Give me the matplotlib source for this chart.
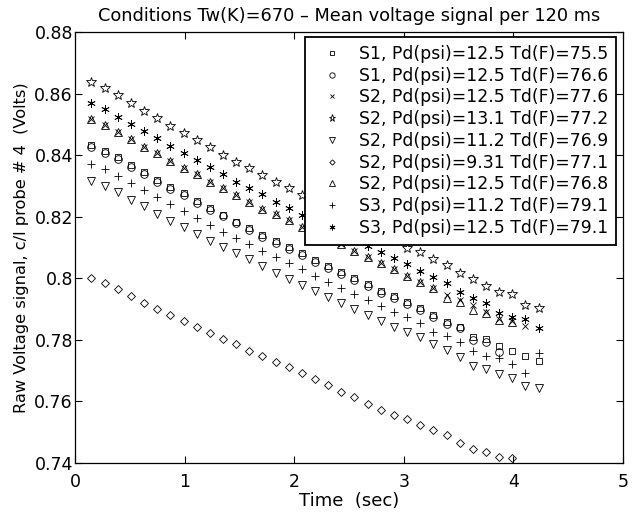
import matplotlib
matplotlib.use("Agg")
import matplotlib.pyplot as plt

plt.rcParams['font.family'] = ['DejaVu Sans']

time_s = [0.15, 0.27, 0.39, 0.51, 0.63, 0.75, 0.87, 0.99, 1.11, 1.23, 1.35, 1.47,
          1.59, 1.71, 1.83, 1.95, 2.07, 2.19, 2.31, 2.43, 2.55, 2.67, 2.79, 2.91,
          3.03, 3.15, 3.27, 3.39, 3.51, 3.63, 3.75, 3.87, 3.99, 4.11, 4.23]

s1_755 = [.8433, .8414, .8393, .8368, .8344, .8319, .8295, .8276, .8250, .8227, .8207, .8184,
          .8162, .8141, .8122, .8100, .8082, .8059, .8040, .8019, .8000, .7981, .7959, .7941,
          .7922, .7902, .7881, .7859, .7843, .7810, .7802, .7781, .7764, .7747, .7731]
s1_766 = [.8427, .8408, .8387, .8362, .8338, .8313, .8289, .8270, .8244, .8221, .8201, .8178,
          .8156, .8135, .8116, .8094, .8076, .8053, .8034, .8013, .7994, .7975, .7953, .7935,
          .7916, .7896, .7875, .7853, .7837, .7801, .7793, .7760]
s2_776 = [.8517, .8499, .8474, .8452, .8427, .8406, .8382, .8359, .8338, .8314, .8292, .8271,
          .8249, .8225, .8208, .8189, .8168, .8148, .8128, .8110, .8090, .8070, .8049, .8030,
          .8008, .7989, .7967, .7946, .7928, .7913, .7890, .7867, .7860, .7845]
s2_772 = [.8639, .8617, .8594, .8568, .8544, .8520, .8496, .8473, .8449, .8426, .8401, .8379,
          .8357, .8335, .8312, .8292, .8270, .8250, .8228, .8207, .8186, .8162, .8141, .8120,
          .8099, .8086, .8063, .8043, .8018, .7999, .7976, .7954, .7948, .7913, .7902]
s2_769 = [.8316, .8301, .8279, .8254, .8234, .8210, .8187, .8166, .8144, .8122, .8101, .8081,
          .8062, .8040, .8018, .7997, .7978, .7960, .7939, .7919, .7900, .7881, .7861, .7843,
          .7826, .7808, .7786, .7767, .7745, .7716, .7704, .7689, .7677, .7651, .7645]
s2_771 = [.8000, .7984, .7964, .7942, .7921, .7899, .7881, .7862, .7841, .7821, .7803, .7786,
          .7765, .7748, .7729, .7711, .7692, .7672, .7652, .7630, .7613, .7592, .7572, .7556,
          .7542, .7523, .7507, .7491, .7466, .7445, .7437, .7420, .7417]
s2_768 = [.8517, .8499, .8474, .8452, .8427, .8406, .8382, .8359, .8338, .8314, .8292, .8271,
          .8249, .8225, .8208, .8189, .8168, .8148, .8128, .8110, .8090, .8070, .8049, .8030,
          .8008, .7989, .7967, .7937, .7924, .7897, .7888, .7865, .7859]
s3_791a = [.8370, .8354, .8333, .8310, .8287, .8263, .8242, .8217, .8195, .8173, .8151, .8130,
           .8111, .8090, .8068, .8049, .8029, .8007, .7987, .7967, .7948, .7929, .7910, .7891,
           .7873, .7854, .7826, .7813, .7794, .7764, .7748, .7741, .7722, .7691, .7758]
s3_791b = [.8568, .8550, .8525, .8501, .8478, .8455, .8431, .8408, .8384, .8361, .8338, .8314,
           .8292, .8273, .8249, .8227, .8206, .8186, .8166, .8146, .8126, .8106, .8086, .8065,
           .8045, .8024, .8003, .7986, .7954, .7937, .7921, .7888, .7875, .7867, .7840]

labels = ["S1, Pd(psi)=12.5 Td(F)=75.5",
          "S1, Pd(psi)=12.5 Td(F)=76.6",
          "S2, Pd(psi)=12.5 Td(F)=77.6",
          "S2, Pd(psi)=13.1 Td(F)=77.2",
          "S2, Pd(psi)=11.2 Td(F)=76.9",
          "S2, Pd(psi)=9.31 Td(F)=77.1",
          "S2, Pd(psi)=12.5 Td(F)=76.8",
          "S3, Pd(psi)=11.2 Td(F)=79.1",
          "S3, Pd(psi)=12.5 Td(F)=79.1"]
series = [s1_755, s1_766, s2_776, s2_772, s2_769, s2_771, s2_768, s3_791a, s3_791b]
markers = ['s', 'o', 'x', '*', 'v', 'D', '^', '+', (6, 2, 0)]
msizes = [5, 5.5, 4, 7.5, 6, 3.8, 6, 6, 6]

fig = plt.figure(figsize=(6.42, 5.14), dpi=100)
ax = fig.add_axes([75/642, 1 - 463/514, (623-75)/642, (463-32)/514])

for y, m, ms, lab in zip(series, markers, msizes, labels):
    ax.plot(time_s[:len(y)], y, linestyle='none', marker=m, markersize=ms,
            markerfacecolor='none', markeredgecolor='black', markeredgewidth=0.6,
            color='black', label=lab)

ax.set_xlim(0, 5)
ax.set_ylim(0.74, 0.88)
ax.set_xticks([0, 1, 2, 3, 4, 5])
ax.set_yticks([0.74, 0.76, 0.78, 0.8, 0.82, 0.84, 0.86, 0.88])
ax.set_yticklabels(['0.74', '0.76', '0.78', '0.8', '0.82', '0.84', '0.86', '0.88'])
ax.tick_params(direction='in', top=True, right=True, length=5, width=0.8,
               labelsize=12.5)
ax.tick_params(axis='y', pad=1.5)
ax.tick_params(axis='x', pad=7)
for sp in ax.spines.values():
    sp.set_linewidth(0.9)

ax.set_xlabel("Time  (sec)", fontsize=13, labelpad=1)
ax.set_ylabel("Raw Voltage signal, c/l probe # 4  (Volts)", fontsize=11.7, labelpad=4)
ax.set_title("Conditions Tw(K)=670 \u2013 Mean voltage signal per 120 ms", fontsize=12.8, pad=8)

leg = ax.legend(loc='upper right', bbox_to_anchor=(616/642, 1 - 37/514),
                bbox_transform=fig.transFigure, fontsize=12.4, frameon=True,
                fancybox=False, framealpha=1, edgecolor='black', markerscale=0.7,
                borderpad=0.45, labelspacing=0.22, handletextpad=0.44, handlelength=2.26,
                borderaxespad=0)
leg.get_frame().set_linewidth(1.3)
leg.set_zorder(10)

fig.savefig("out.png", dpi=100)
